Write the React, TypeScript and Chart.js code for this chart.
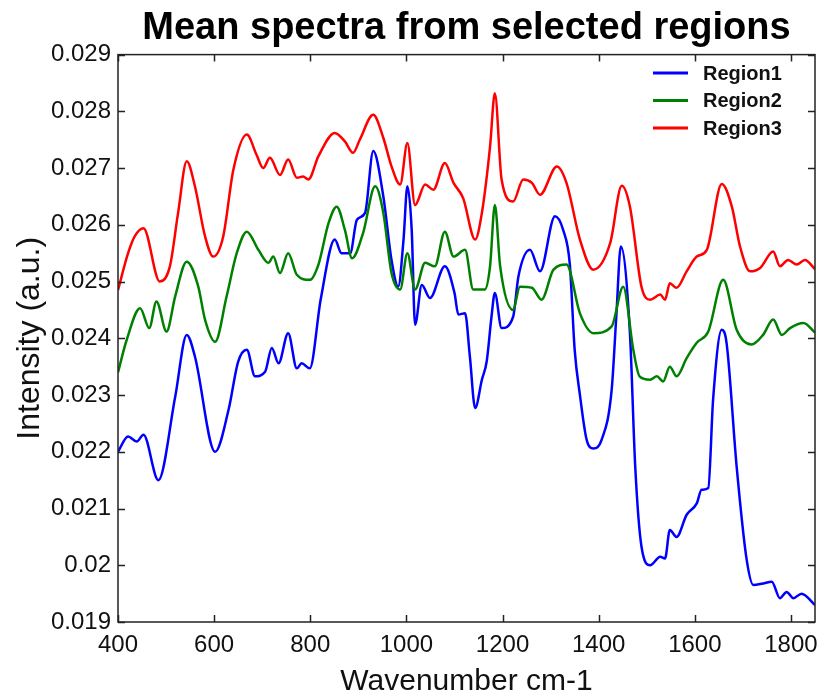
import React, { useEffect, useRef } from 'react';
import { Chart, registerables } from 'chart.js';

Chart.register(...registerables);

// Region1 (blue)
const region1Wavenumbers = [400, 421, 439, 453, 484, 519, 543, 560, 602, 630, 650, 668, 685, 706, 720, 734, 754, 772, 782, 799, 822, 851, 865, 883, 897, 914, 931, 952, 969, 983, 994, 1002, 1011, 1018, 1032, 1049, 1080, 1100, 1108, 1122, 1132, 1143, 1157, 1167, 1177, 1184, 1198, 1222, 1233, 1257, 1278, 1309, 1326, 1340, 1350, 1361, 1375, 1389, 1406, 1427, 1437, 1446, 1465, 1476, 1489, 1507, 1528, 1538, 1548, 1562, 1583, 1604, 1614, 1628, 1638, 1656, 1666, 1687, 1708, 1722, 1742, 1760, 1777, 1791, 1805, 1822, 1850];
const region1Values = [0.0220, 0.02227, 0.02218, 0.0223, 0.0215, 0.02297, 0.02406, 0.02368, 0.0220, 0.02274, 0.02359, 0.0238, 0.02333, 0.02341, 0.02383, 0.02356, 0.02409, 0.02347, 0.02356, 0.02347, 0.0247, 0.02574, 0.0255, 0.0255, 0.02609, 0.02621, 0.0273, 0.0265, 0.02538, 0.02491, 0.02574, 0.02668, 0.02591, 0.02424, 0.02494, 0.02471, 0.02527, 0.0248, 0.02442, 0.02444, 0.02368, 0.02277, 0.02327, 0.02359, 0.02438, 0.0248, 0.02418, 0.02438, 0.02509, 0.02556, 0.02518, 0.02615, 0.02591, 0.0253, 0.0238, 0.0230, 0.02221, 0.02206, 0.02221, 0.02309, 0.02444, 0.02562, 0.02409, 0.02174, 0.02033, 0.0200, 0.02015, 0.02012, 0.02062, 0.0205, 0.02089, 0.02109, 0.02133, 0.02136, 0.02292, 0.02415, 0.02392, 0.02174, 0.02009, 0.01965, 0.01968, 0.01971, 0.01942, 0.01953, 0.01942, 0.0195, 0.0193];

// Region2 (green)
const region2Wavenumbers = [400, 418, 446, 465, 480, 501, 519, 543, 567, 581, 602, 626, 647, 668, 692, 713, 723, 737, 754, 772, 799, 817, 838, 855, 872, 887, 910, 935, 952, 969, 987, 1002, 1018, 1039, 1059, 1080, 1098, 1122, 1139, 1163, 1174, 1184, 1195, 1222, 1236, 1261, 1281, 1306, 1333, 1361, 1389, 1427, 1451, 1472, 1485, 1507, 1521, 1534, 1548, 1562, 1583, 1604, 1628, 1659, 1687, 1718, 1742, 1763, 1781, 1798, 1826, 1850];
const region2Values = [0.0234, 0.02397, 0.02453, 0.02418, 0.02465, 0.02412, 0.02474, 0.02535, 0.02491, 0.02433, 0.02394, 0.02474, 0.0255, 0.02588, 0.02556, 0.02533, 0.02544, 0.02515, 0.0255, 0.02512, 0.02503, 0.0253, 0.02603, 0.02632, 0.02591, 0.02541, 0.02586, 0.02668, 0.02621, 0.02515, 0.02486, 0.0255, 0.02486, 0.02533, 0.02527, 0.02588, 0.02544, 0.02556, 0.02486, 0.02486, 0.02527, 0.02635, 0.02527, 0.0245, 0.02491, 0.02489, 0.02468, 0.02521, 0.0253, 0.02444, 0.02409, 0.02421, 0.02491, 0.0238, 0.02333, 0.02327, 0.02333, 0.02324, 0.0235, 0.02333, 0.02365, 0.02392, 0.02412, 0.02503, 0.02415, 0.02389, 0.02406, 0.02433, 0.02406, 0.02418, 0.02427, 0.0241];

// Region3 (red)
const region3Wavenumbers = [400, 421, 435, 453, 487, 508, 525, 543, 560, 581, 598, 619, 640, 668, 688, 702, 716, 737, 754, 772, 785, 796, 817, 851, 872, 889, 903, 931, 952, 969, 987, 1002, 1018, 1039, 1056, 1080, 1098, 1118, 1143, 1157, 1174, 1184, 1198, 1222, 1243, 1261, 1278, 1313, 1333, 1361, 1389, 1424, 1448, 1465, 1489, 1507, 1528, 1538, 1548, 1562, 1583, 1604, 1625, 1656, 1677, 1694, 1715, 1736, 1763, 1777, 1794, 1812, 1829, 1850];
const region3Values = [0.02485, 0.0255, 0.0258, 0.02594, 0.0250, 0.02527, 0.02621, 0.02712, 0.02668, 0.0258, 0.02544, 0.0258, 0.02697, 0.02759, 0.02724, 0.0270, 0.02718, 0.02688, 0.02715, 0.02683, 0.02685, 0.0268, 0.02721, 0.02762, 0.02747, 0.02727, 0.0275, 0.02794, 0.02753, 0.02703, 0.02671, 0.02744, 0.02635, 0.02671, 0.02662, 0.02709, 0.02674, 0.02647, 0.02574, 0.02621, 0.02738, 0.02832, 0.0268, 0.02641, 0.0268, 0.02674, 0.02653, 0.02703, 0.02674, 0.02574, 0.02521, 0.02568, 0.02669, 0.02632, 0.02491, 0.02468, 0.02477, 0.02468, 0.02497, 0.02489, 0.02518, 0.02544, 0.02556, 0.02672, 0.02632, 0.02562, 0.02518, 0.02524, 0.02553, 0.02527, 0.02538, 0.0253, 0.02538, 0.02522];

const seriesLabels = ['Region1', 'Region2', 'Region3'];
const seriesColors = ['#0000ff', '#008000', '#ff0000'];

const xTickValues = [400, 600, 800, 1000, 1200, 1400, 1600, 1800];
const yTickValues = [0.019, 0.02, 0.021, 0.022, 0.023, 0.024, 0.025, 0.026, 0.027, 0.028, 0.029];

const chartTitle = 'Mean spectra from selected regions';
const xTitle = 'Wavenumber cm-1';
const yTitle = 'Intensity (a.u.)';

const FONT = '"Liberation Sans", Arial, Helvetica, sans-serif';

function toPoints(xs: number[], ys: number[]) {
  return xs.map((x, i) => ({ x, y: ys[i] }));
}

export default function App() {
  const canvasRef = useRef<HTMLCanvasElement>(null);

  useEffect(() => {
    const canvas = canvasRef.current;
    if (!canvas) return;

    const frameAndLegend = {
      id: 'frameAndLegend',
      afterDatasetsDraw(chart: any) {
        const { ctx, chartArea: a, scales } = chart;
        ctx.save();
        ctx.strokeStyle = '#222';
        ctx.lineWidth = 1.5;
        ctx.strokeRect(a.left, a.top, a.right - a.left, a.bottom - a.top);
        const L = 7;
        ctx.beginPath();
        for (const v of xTickValues) {
          const x = Math.round(scales.x.getPixelForValue(v)) + 0.5;
          ctx.moveTo(x, a.bottom);
          ctx.lineTo(x, a.bottom - L);
          ctx.moveTo(x, a.top);
          ctx.lineTo(x, a.top + L);
        }
        for (const v of yTickValues) {
          const y = Math.round(scales.y.getPixelForValue(v)) + 0.5;
          ctx.moveTo(a.left, y);
          ctx.lineTo(a.left + L, y);
          ctx.moveTo(a.right, y);
          ctx.lineTo(a.right - L, y);
        }
        ctx.stroke();

        // legend
        const lineStart = a.right - 162;
        const lineEnd = a.right - 127;
        const textX = a.right - 112;
        ctx.font = 'bold 20px ' + FONT;
        ctx.textBaseline = 'middle';
        ctx.textAlign = 'left';
        seriesLabels.forEach((label, i) => {
          const y = a.top + 18.5 + i * 27.5;
          ctx.strokeStyle = seriesColors[i];
          ctx.lineWidth = 3;
          ctx.beginPath();
          ctx.moveTo(lineStart, y);
          ctx.lineTo(lineEnd, y);
          ctx.stroke();
          ctx.fillStyle = '#111';
          ctx.fillText(label, textX, y + 1);
        });
        ctx.restore();
      },
    };

    const datasets = [
      { label: seriesLabels[0], data: toPoints(region1Wavenumbers, region1Values), borderColor: seriesColors[0], order: 3 },
      { label: seriesLabels[1], data: toPoints(region2Wavenumbers, region2Values), borderColor: seriesColors[1], order: 2 },
      { label: seriesLabels[2], data: toPoints(region3Wavenumbers, region3Values), borderColor: seriesColors[2], order: 1 },
    ].map((d) => ({
      ...d,
      borderWidth: 2.5,
      pointRadius: 0,
      fill: false,
      cubicInterpolationMode: 'monotone' as const,
    }));

    const chart = new Chart(canvas, {
      type: 'line',
      data: { datasets },
      plugins: [frameAndLegend],
      options: {
        responsive: false,
        animation: false,
        devicePixelRatio: 1,
        layout: { padding: { left: 0, right: 7, top: 0, bottom: 0 } },
        plugins: {
          legend: { display: false },
          tooltip: { enabled: false },
          title: {
            display: true,
            text: chartTitle,
            fullSize: false,
            color: '#000',
            font: { family: FONT, size: 38, weight: 'bold', lineHeight: 1.2 },
            padding: { top: 6, bottom: 3 },
          },
        },
        scales: {
          x: {
            type: 'linear',
            min: 400,
            max: 1850,
            afterBuildTicks: (s: any) => {
              s.ticks = xTickValues.map((v) => ({ value: v }));
            },
            afterFit: (s: any) => {
              s.height = 71;
              s.paddingLeft = 0;
              s.paddingRight = 0;
            },
            grid: { display: false, drawTicks: false },
            border: { display: false },
            ticks: {
              autoSkip: false,
              maxRotation: 0,
              padding: 9,
              color: '#111',
              font: { family: FONT, size: 24 },
              callback: (v: any) => String(v),
            },
            title: {
              display: true,
              text: xTitle,
              color: '#111',
              font: { family: FONT, size: 30, lineHeight: 0.75 },
              padding: { top: 0, bottom: 0 },
            },
          },
          y: {
            type: 'linear',
            min: 0.019,
            max: 0.029,
            afterBuildTicks: (s: any) => {
              s.ticks = yTickValues.map((v) => ({ value: v }));
            },
            afterFit: (s: any) => {
              s.width = 118;
              s.paddingTop = 0;
              s.paddingBottom = 0;
            },
            grid: { display: false, drawTicks: false },
            border: { display: false },
            ticks: {
              padding: 7,
              color: '#111',
              font: { family: FONT, size: 24 },
              callback: (v: any) => String(Number(Number(v).toFixed(3))),
            },
            title: {
              display: true,
              text: yTitle,
              color: '#111',
              font: { family: FONT, size: 32 },
              padding: { top: 11, bottom: 0 },
            },
          },
        },
      },
    } as any);

    return () => chart.destroy();
  }, []);

  return (
    <div style={{ position: 'absolute', left: 0, top: 0, width: 822, height: 693, background: '#fff' }}>
      <canvas ref={canvasRef} width={822} height={693} style={{ display: 'block' }} />
    </div>
  );
}
